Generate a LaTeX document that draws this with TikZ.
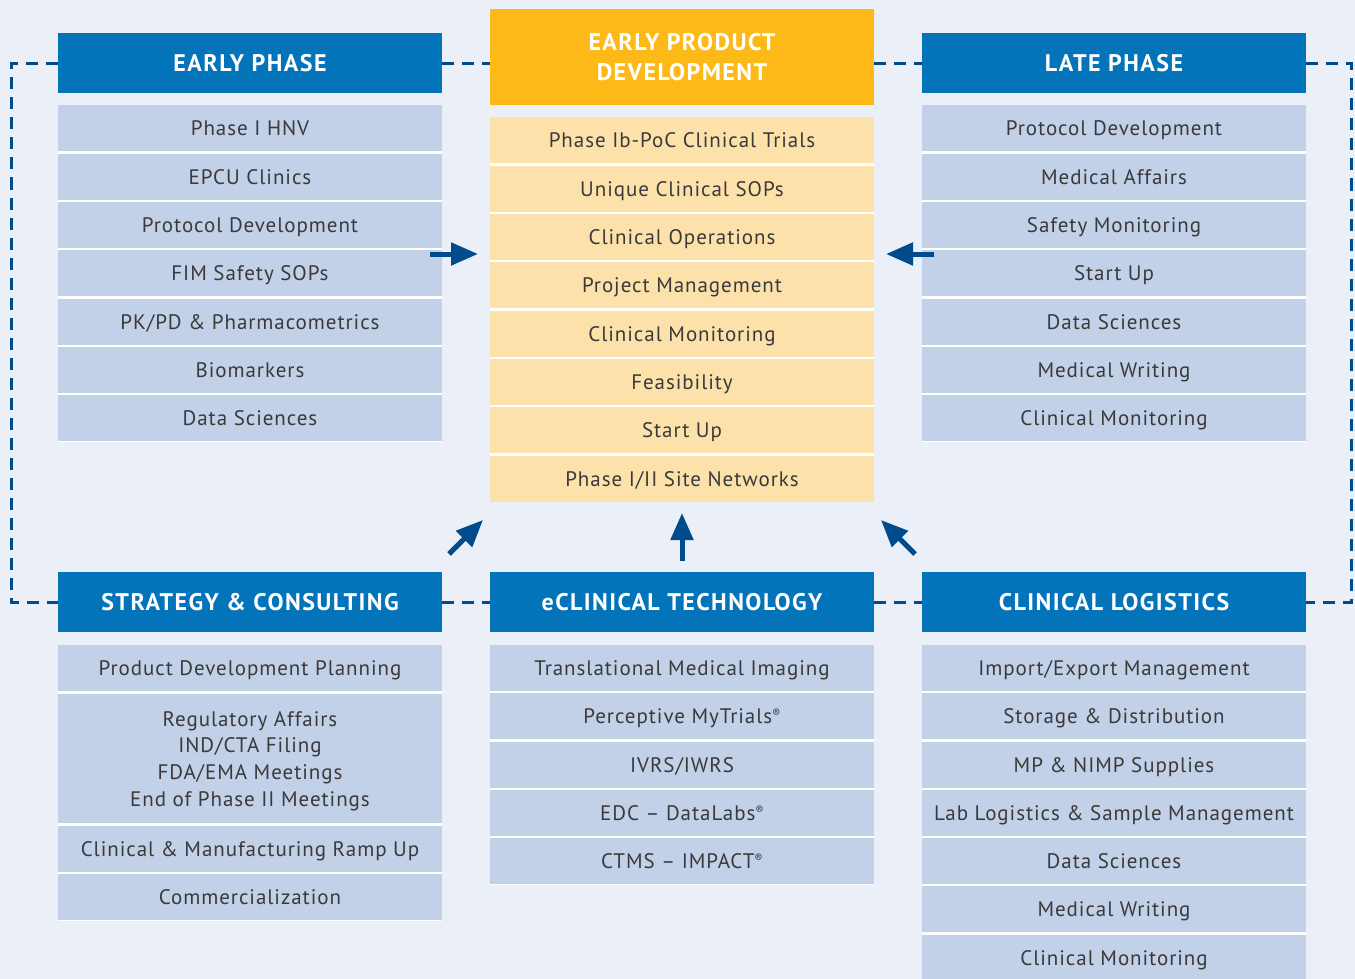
\documentclass[tikz,border=0pt]{standalone}
\usepackage{fontspec}
\setmainfont{PT Sans}[LetterSpace=4.5]
\usetikzlibrary{arrows.meta}
\definecolor{bg}{HTML}{EAEFF8}
\definecolor{hdrblue}{HTML}{0373BA}
\definecolor{hdrorange}{HTML}{FCB918}
\definecolor{itemblue}{HTML}{C2D0E8}
\definecolor{itemorange}{HTML}{FDE1AA}
\definecolor{darkblue}{HTML}{004B8B}
\definecolor{txt}{HTML}{3A3A3A}
\newcommand{\regmark}{\raisebox{6pt}{\fontsize{12}{12}\selectfont ®}}
\begin{document}
\begin{tikzpicture}[x=1pt,y=-1pt,
  item/.style={fill=itemblue, minimum width=384pt, minimum height=46pt, inner sep=0pt, text=txt, anchor=north, align=center, text height=15pt, text depth=0pt, font=\fontsize{21}{26.7}\selectfont},
  oitem/.style={item, fill=itemorange},
  hdr/.style={fill=hdrblue, minimum width=384pt, minimum height=60pt, inner sep=0pt, text=white, align=center, text height=17pt, text depth=0pt, font=\fontsize{24}{30.5}\selectfont\bfseries\addfontfeatures{LetterSpace=6}},
  ohdr/.style={hdr, fill=hdrorange, minimum height=96pt, text height=47.5pt},
  dashline/.style={draw=darkblue, line width=3pt, dash pattern=on 12pt off 8pt},
  arr/.style={draw=darkblue, line width=5pt, -{Triangle[length=27pt,width=22pt]}}
]
\fill[bg] (0,0) rectangle (1355,979);
\useasboundingbox (0,0) rectangle (1355,979);

% headers
\node[hdr] (ep) at (250,63.5) {EARLY PHASE};
\node[ohdr] (epd) at (682,57) {EARLY PRODUCT\\DEVELOPMENT};
\node[hdr] (lp) at (1114,63.5) {LATE PHASE};
\node[hdr] (sc) at (250,602) {STRATEGY \& CONSULTING};
\node[hdr] (ec) at (682,602) {eCLINICAL TECHNOLOGY};
\node[hdr] (cl) at (1114,602) {CLINICAL LOGISTICS};

% dashed connections
\draw[dashline] (ep.east) -- (epd.west |- ep.east);
\draw[dashline] (epd.east |- lp.west) -- (lp.west);
\draw[dashline] (sc.east) -- (ec.west);
\draw[dashline] (ec.east) -- (cl.west);
\draw[dashline] (ep.west) -- ++(-46,0) |- (sc.west);
\draw[dashline] (lp.east) -- ++(45,0) |- (cl.east);

% white separators
\fill[white] (58,105) rectangle (442,442);
\fill[white] (490,117) rectangle (874,502);
\fill[white] (922,105) rectangle (1306,442);
\fill[white] (58,645) rectangle (442,921);
\fill[white] (490,645) rectangle (874,885);
\fill[white] (922,645) rectangle (1306,979);

% early phase
\foreach \t [count=\i] in {Phase I HNV, EPCU Clinics, Protocol Development, FIM Safety SOPs, PK/PD \& Pharmacometrics, Biomarkers, Data Sciences}
  \node[item] (ep\i) at (250,{105+(\i-1)*48.33}) {\t};

% early product development
\foreach \t [count=\i] in {Phase Ib-PoC Clinical Trials, Unique Clinical SOPs, Clinical Operations, Project Management, Clinical Monitoring, Feasibility, Start Up, Phase I/II Site Networks}
  \node[oitem] (epd\i) at (682,{117+(\i-1)*48.33}) {\t};

% late phase
\foreach \t [count=\i] in {Protocol Development, Medical Affairs, Safety Monitoring, Start Up, Data Sciences, Medical Writing, Clinical Monitoring}
  \node[item] (lp\i) at (1114,{105+(\i-1)*48.33}) {\t};

% strategy & consulting
\node[item] (sc1) at (250,645) {Product Development Planning};
\node[item, minimum height=129pt, text height=95.1pt] (sc2) at (250,694) {Regulatory Affairs\\IND/CTA Filing\\FDA/EMA Meetings\\End of Phase II Meetings};
\node[item] (sc3) at (250,826) {Clinical \& Manufacturing Ramp Up};
\node[item] (sc4) at (250,874) {Commercialization};

% eclinical
\foreach \t [count=\i] in {Translational Medical Imaging, Perceptive MyTrials\regmark, IVRS/IWRS, EDC -- DataLabs\regmark, CTMS -- IMPACT\regmark}
  \node[item] (ec\i) at (682,{645+(\i-1)*48.25}) {\t};

% clinical logistics
\foreach \t [count=\i] in {Import/Export Management, Storage \& Distribution, MP \& NIMP Supplies, Lab Logistics \& Sample Management, Data Sciences, Medical Writing, Clinical Monitoring}
  \node[item] (cl\i) at (1114,{645+(\i-1)*48.25}) {\t};

% arrows
\coordinate (a1s) at (430,254); \coordinate (a1e) at (478,254);
\coordinate (a2s) at (934,254); \coordinate (a2e) at (886,254);
\coordinate (a3s) at (449,554); \coordinate (a3e) at (483,520);
\coordinate (a4s) at (682,561); \coordinate (a4e) at (682,513);
\coordinate (a5s) at (915,554); \coordinate (a5e) at (881,520);
\draw[arr] (a1s) -- (a1e);
\draw[arr] (a2s) -- (a2e);
\draw[arr] (a3s) -- (a3e);
\draw[arr] (a4s) -- (a4e);
\draw[arr] (a5s) -- (a5e);
\end{tikzpicture}
\end{document}
